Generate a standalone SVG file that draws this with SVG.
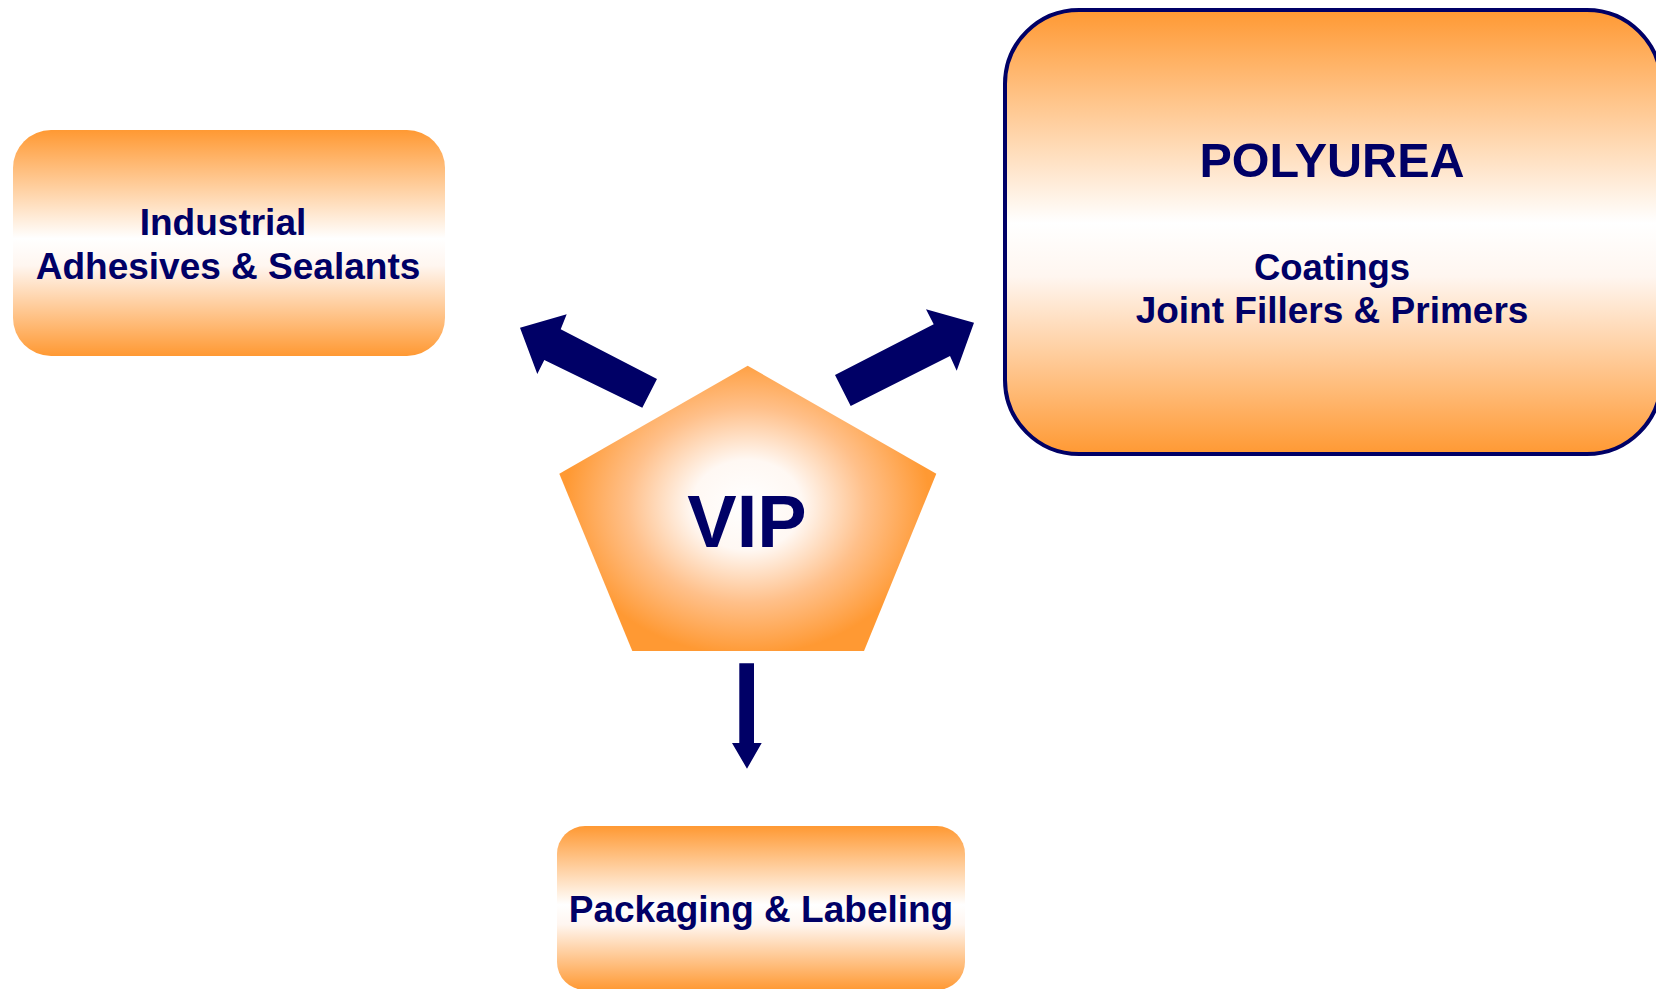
<svg xmlns="http://www.w3.org/2000/svg" width="1656" height="989" viewBox="0 0 1656 989">
<style>
.t{font-family:"Liberation Sans",Arial,sans-serif;font-weight:bold;fill:#000066;text-anchor:middle}
.arr{fill:#000066}
</style>
<defs>
<linearGradient id="vg" x1="0" y1="0" x2="0" y2="1">
<stop offset="0" stop-color="#FF9933"/>
<stop offset="0.48" stop-color="#FFFFFF"/>
<stop offset="0.6" stop-color="#FFF6F0"/>
<stop offset="1" stop-color="#FF9933"/>
</linearGradient>
<radialGradient id="rg" gradientUnits="userSpaceOnUse" cx="747" cy="505" r="150" gradientTransform="translate(747 505) scale(1.22 1) translate(-747 -505)">
<stop offset="0" stop-color="#FFFFFF"/>
<stop offset="0.3" stop-color="#FFF8F3"/>
<stop offset="0.65" stop-color="#FFC08A"/>
<stop offset="1" stop-color="#FF9933"/>
</radialGradient>
</defs>
<g id="industrial">
<rect x="13" y="130" width="432" height="226" rx="38" ry="38" fill="url(#vg)"/>
<text class="t" x="223" y="235" font-size="37">Industrial</text>
<text class="t" x="228" y="279" font-size="37">Adhesives &amp; Sealants</text>
</g>
<g id="polyurea">
<rect x="1005" y="10" width="656" height="444" rx="74" ry="74" fill="url(#vg)" stroke="#000066" stroke-width="4"/>
<text class="t" x="1332" y="177" font-size="48.5">POLYUREA</text>
<text class="t" x="1332" y="280" font-size="36.5">Coatings</text>
<text class="t" x="1332" y="323" font-size="37">Joint Fillers &amp; Primers</text>
</g>
<g id="vip">
<polygon points="747.7,365.7 936.3,473.7 864,651 632.3,651 559.3,473.7" fill="url(#rg)"/>
<text class="t" x="747" y="547" font-size="74">VIP</text>
</g>
<g id="packaging">
<rect x="557" y="826" width="408" height="164" rx="28" ry="28" fill="url(#vg)"/>
<text class="t" x="761" y="922" font-size="37">Packaging &amp; Labeling</text>
</g>
<g id="connectors">
<polygon class="arr" points="520,327.7 566.7,314.3 560.7,329.3 657,379 642.3,407.7 544.3,360 537.3,374"/>
<polygon class="arr" points="974,322.7 926,309.3 933.7,324.3 835,375 850.7,406 950,356 956.7,370.7"/>
<polygon class="arr" points="739.3,663.3 754,663.3 754,743 761.7,743 747,768.7 732,743 739.3,743"/>
</g>
</svg>
